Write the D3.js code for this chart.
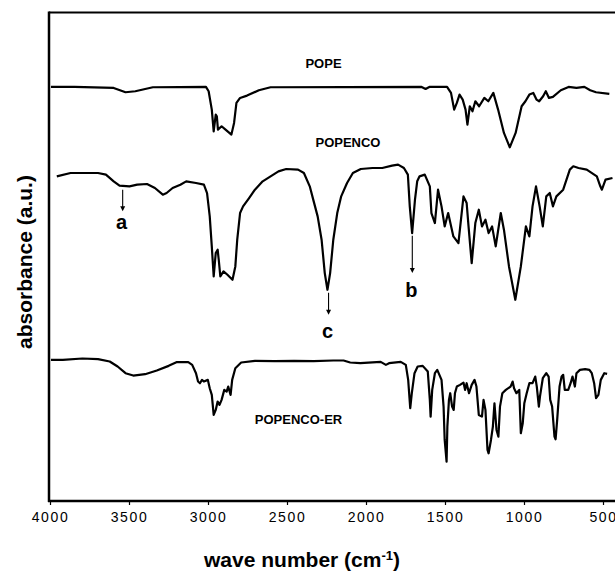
<!DOCTYPE html>
<html><head><meta charset="utf-8">
<script src="https://cdn.jsdelivr.net/npm/d3@7"></script>
<style>html,body{margin:0;padding:0;background:#fff;} svg{display:block;}</style>
</head><body>
<svg id="c" width="615" height="571"></svg>
<script>
// x: wave number (cm-1); y: absorbance (arbitrary units, stacked offsets)
const xTicks = [4000, 3500, 3000, 2500, 2000, 1500, 1000, 500];
const seriesNames = ["POPE", "POPENCO", "POPENCO-ER"];

const popeWave = [3994,3845,3597,3522,3460,3349,3013,2996,2976,2964,2951,2944,2937,2914,2889,2852,2835,2820,2797,2753,2678,2604,1648,1623,1599,1487,1462,1442,1425,1408,1388,1370,1358,1343,1326,1308,1284,1251,1226,1194,1164,1127,1090,1053,1015,991,966,941,921,904,879,862,842,817,767,718,668,618,581,544,460];
const popeAbs  = [1241,1241,1238,1225,1228,1240,1241,1228,1173,1108,1158,1153,1113,1123,1113,1098,1133,1193,1208,1215,1231,1240,1241,1235,1241,1241,1223,1173,1193,1218,1203,1173,1128,1183,1168,1198,1183,1208,1198,1223,1173,1103,1060,1103,1183,1198,1218,1223,1203,1198,1213,1228,1208,1211,1231,1241,1238,1241,1231,1225,1220];

const popencoWave = [3957,3870,3696,3646,3597,3560,3497,3448,3386,3336,3286,3262,3224,3175,3138,3076,3026,3006,2989,2976,2964,2951,2939,2932,2922,2902,2877,2845,2827,2815,2797,2778,2740,2703,2654,2604,2554,2505,2430,2393,2356,2331,2306,2281,2261,2244,2227,2207,2182,2157,2120,2083,2033,1959,1897,1835,1797,1760,1735,1723,1708,1690,1676,1661,1628,1596,1586,1564,1544,1522,1502,1480,1447,1415,1383,1363,1351,1331,1308,1286,1266,1244,1224,1202,1179,1147,1127,1095,1055,1020,988,966,946,924,901,881,859,837,817,795,752,710,688,655,603,539,517,507,484,440];
const popencoAbs  = [973,983,983,978,958,945,943,948,950,938,918,923,938,948,958,953,948,923,853,763,673,743,753,723,673,688,678,663,703,783,863,883,908,933,958,973,988,995,993,983,943,898,853,783,683,633,683,783,863,913,953,983,995,998,998,1005,1008,998,978,883,803,903,958,973,978,943,863,833,933,883,823,863,793,773,913,893,823,713,833,873,823,843,803,823,763,863,813,703,603,703,823,793,883,943,883,823,913,923,883,913,933,993,1003,998,993,973,943,933,963,968];

const erWave = [3994,3919,3795,3696,3622,3572,3522,3473,3398,3324,3249,3200,3125,3100,3076,3063,3051,3038,3026,3001,2989,2976,2964,2951,2939,2927,2914,2897,2882,2872,2857,2847,2827,2790,2703,2579,2455,2331,2207,2142,2100,2036,1907,1874,1854,1780,1748,1733,1720,1710,1693,1673,1641,1609,1596,1591,1581,1564,1549,1522,1509,1502,1490,1485,1475,1467,1455,1445,1437,1425,1405,1383,1373,1363,1348,1331,1313,1301,1286,1266,1256,1244,1231,1224,1209,1197,1187,1174,1162,1152,1137,1115,1085,1072,1063,1048,1030,1020,1008,998,983,966,946,929,919,906,899,881,859,844,834,822,807,800,790,775,762,752,742,720,705,693,678,668,646,613,586,571,556,544,529,514,492,474];
const erAbs  = [423,423,427,425,418,403,383,376,380,391,405,416,416,408,383,358,353,363,358,363,338,318,258,273,298,288,303,333,328,343,318,363,398,415,420,419,420,419,421,421,415,413,417,408,413,417,408,363,278,323,383,403,405,388,303,253,333,383,393,363,283,183,118,223,303,323,283,273,323,343,348,355,333,353,323,348,363,343,258,253,303,273,153,143,183,223,293,213,193,283,323,333,343,358,338,323,333,203,233,293,323,353,353,373,343,283,313,368,383,373,303,283,193,185,243,343,373,378,333,333,353,373,343,383,393,395,393,383,353,308,318,363,383,381];

// series labels (wave number, absorbance)
const labelWave = [2269, 2114, 2427];
const labelAbs  = [1311, 1075, 245];

// peak annotations: letter, wave number, arrow top, arrow bottom, label position
const peakLetters = ["a", "b", "c"];
const peakWave    = [3540, 1707, 2237];
const peakTop     = [933, 795, 624];
const peakBottom  = [868, 683, 558];
const peakLabel   = [835, 633, 508];

(function () {
const FONT = "'Liberation Sans', Arial, Helvetica, sans-serif";
const svg = d3.select("#c");
const W = 615;
const mLeft = 49, mTop = 12.5, mBottom = 501, plotRight = 603;

const x = d3.scaleLinear().domain([4000, 500]).range([mLeft + 1, plotRight]);
const y = d3.scaleLinear().domain([0, 1464]).range([mBottom, mTop]);

svg.append("defs").append("clipPath").attr("id", "clip")
  .append("rect").attr("x", mLeft).attr("y", mTop).attr("width", W - mLeft).attr("height", mBottom - mTop);

const lineGen = d3.line().x(d => x(d[0])).y(d => y(d[1])).curve(d3.curveLinear);
const series = [
  d3.zip(popeWave, popeAbs),
  d3.zip(popencoWave, popencoAbs),
  d3.zip(erWave, erAbs)
];
const g = svg.append("g").attr("clip-path", "url(#clip)");
series.forEach(s => {
  g.append("path").datum(s).attr("d", lineGen)
    .attr("fill", "none").attr("stroke", "#000").attr("stroke-width", 2.2)
    .attr("stroke-linejoin", "round");
});

// frame
svg.append("line").attr("x1", mLeft).attr("x2", W).attr("y1", mTop).attr("y2", mTop)
  .attr("stroke", "#000").attr("stroke-width", 2);
svg.append("line").attr("x1", mLeft).attr("x2", mLeft).attr("y1", mTop - 1).attr("y2", mBottom + 1)
  .attr("stroke", "#000").attr("stroke-width", 2.5);
svg.append("line").attr("x1", mLeft - 1).attr("x2", W).attr("y1", mBottom).attr("y2", mBottom)
  .attr("stroke", "#000").attr("stroke-width", 2.5);

// x axis
const ax = svg.append("g").attr("transform", `translate(0,${mBottom})`)
  .call(d3.axisBottom(x).tickValues(xTicks).tickSize(4).tickPadding(7).tickFormat(d3.format("d")));
ax.select(".domain").remove();
ax.selectAll(".tick line").attr("stroke", "#000").attr("stroke-width", 1.2);
ax.selectAll(".tick text").attr("font-family", FONT).attr("font-size", 14)
  .attr("letter-spacing", "1.6px").attr("fill", "#000");

const t = svg.append("text").attr("x", 302).attr("y", 567).attr("text-anchor", "middle")
  .attr("font-family", FONT).attr("font-weight", "bold").attr("font-size", 21);
t.append("tspan").text("wave number (cm");
t.append("tspan").attr("dy", -7).attr("font-size", 13).text("-1");
t.append("tspan").attr("dy", 7).text(")");

svg.append("text").attr("transform", "translate(32,262) rotate(-90)").attr("text-anchor", "middle")
  .attr("font-family", FONT).attr("font-weight", "bold").attr("font-size", 21)
  .text("absorbance (a.u.)");

// series labels
seriesNames.forEach((n, i) => {
  svg.append("text").attr("x", x(labelWave[i])).attr("y", y(labelAbs[i]) + 4.5)
    .attr("text-anchor", "middle").attr("font-family", FONT).attr("font-weight", "bold")
    .attr("font-size", 13).text(n);
});

// peak annotations
peakLetters.forEach((p, i) => {
  const px = x(peakWave[i]);
  const yb = y(peakBottom[i]);
  svg.append("line").attr("x1", px).attr("x2", px).attr("y1", y(peakTop[i])).attr("y2", yb - 4)
    .attr("stroke", "#000").attr("stroke-width", 1.1);
  svg.append("path").attr("d", `M${px - 2.5},${yb - 5}L${px + 2.5},${yb - 5}L${px},${yb}Z`).attr("fill", "#000");
  svg.append("text").attr("x", px - 1).attr("y", y(peakLabel[i]) + 7)
    .attr("text-anchor", "middle").attr("font-family", FONT).attr("font-weight", "bold")
    .attr("font-size", 20).text(p);
});
})();
</script>
</body></html>
